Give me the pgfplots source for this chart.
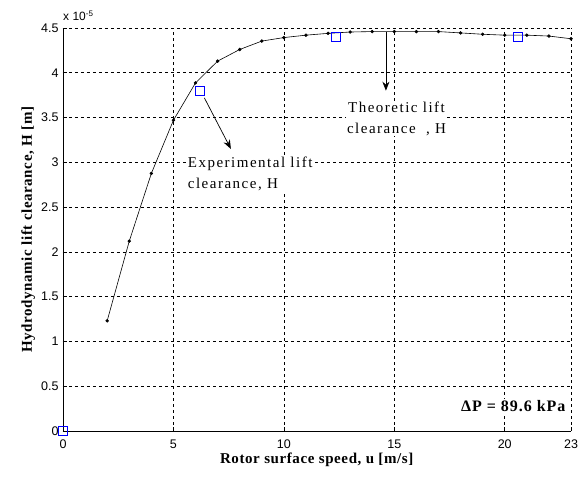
\documentclass[border=0pt]{standalone}
\usepackage{fontspec}
\setmainfont{Liberation Serif}
\setsansfont{Liberation Sans}
\newfontfamily\annfont{Liberation Serif}[LetterSpace=10]
\newfontfamily\dpfont{Liberation Serif}[LetterSpace=6]
\newfontfamily\labfont{Liberation Serif}[LetterSpace=4]
\usepackage{pgfplots}
\pgfplotsset{compat=1.18}
\usetikzlibrary{arrows.meta}
\begin{document}
\begin{tikzpicture}[x=1pt,y=1pt]
\begin{axis}[
  scale only axis,
  width=508pt, height=403pt,
  xmin=0, xmax=23, ymin=0, ymax=4.5,
  xtick={0,5,10,15,20,23},
  ytick={0,0.5,1,1.5,2,2.5,3,3.5,4,4.5},
  yticklabels={0,0.5,1,1.5,2,2.5,3,3.5,4,4.5},
  xticklabels={0,5,10,15,20,23},
  axis x line*=bottom, axis y line*=left,
  axis line style={line width=0.9pt, -},
  tick align=inside,
  major tick length=4pt,
  tick style={black, line width=0.6pt},
  grid=major,
  major grid style={black, line width=0.6pt, dash pattern=on 3pt off 3pt},
  ticklabel style={font=\fontsize{12.5}{14}\sffamily\selectfont},
  xticklabel style={yshift=-5pt},
  yticklabel style={xshift=-1pt},
  xlabel={\textbf{Rotor surface speed, u [m/s]}},
  ylabel={\textbf{Hydrodynamic lift clearance, H [m]}},
  label style={font=\fontsize{15}{17}\labfont},
  xlabel style={yshift=2pt},
  ylabel style={yshift=-1pt},
  clip=false,
]
\path[draw=none] ([xshift=-63pt,yshift=-48pt]rel axis cs:0,0) rectangle ([xshift=13pt,yshift=28pt]rel axis cs:1,1);
\node[anchor=south west, font=\fontsize{12}{14}\sffamily\selectfont, inner sep=0pt] at ([yshift=7pt]rel axis cs:0,1) {x 10\textsuperscript{-5}};
\addplot[black, line width=0.6pt, mark=*, mark size=1.4pt] coordinates {
(2,1.23) (3,2.12) (4,2.876) (5,3.47) (6,3.887) (7,4.13) (8,4.26) (9,4.354)
(10,4.393) (11,4.42) (12,4.44) (13,4.455) (14,4.46) (15,4.46) (16,4.46)
(17,4.46) (18,4.445) (19,4.43) (20,4.42) (21,4.42) (22,4.41) (23,4.38)
};
\addplot[only marks, blue, mark=square, mark size=4.5pt, line width=0.7pt] coordinates {
(0,0) (6.18,3.80) (12.36,4.40) (20.58,4.40)
};
\draw[-{Stealth[length=9pt,width=7pt]}, line width=0.7pt] (axis cs:6.4,3.72) -- (axis cs:7.6,3.15);
\draw[-{Stealth[length=9pt,width=7pt]}, line width=0.7pt] (axis cs:14.62,4.46) -- (axis cs:14.62,3.80);
\node[anchor=west, align=left, fill=white, inner sep=1pt, font=\fontsize{15}{21}\annfont] at (axis cs:5.6,2.87) {Experimental lift\\clearance, H};
\node[align=center, fill=white, inner sep=1pt, font=\fontsize{15}{21}\annfont] at (axis cs:15.1,3.49) {Theoretic lift\\clearance\ \ , H};
\node[anchor=east, fill=white, inner sep=1pt, font=\fontsize{16}{18}\dpfont\bfseries] at (axis cs:22.8,0.28) {ΔP = 89.6 kPa};
\end{axis}
\end{tikzpicture}
\end{document}
